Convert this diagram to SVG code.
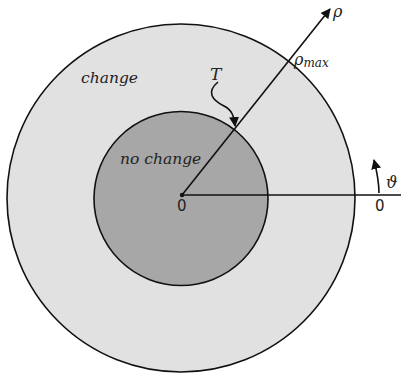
<svg xmlns="http://www.w3.org/2000/svg" width="401" height="379" viewBox="0 0 401 379">
<style>
.lbl{font-family:"DejaVu Serif","Liberation Serif",serif;font-style:italic;fill:#222}
.num{font-family:"DejaVu Sans","Liberation Sans",sans-serif;fill:#222;font-size:15px}
.ln{stroke:#111;stroke-width:1.6;fill:none}
</style>
<defs>
<marker id="ah" viewBox="0 0 10 10" refX="9" refY="5" markerWidth="10" markerHeight="10" markerUnits="userSpaceOnUse" orient="auto">
<path d="M0,0 L10,5 L0,10 z" fill="#111"/>
</marker>
</defs>
<rect width="401" height="379" fill="#fff"/>
<g id="outer-region">
<circle cx="181" cy="198" r="174" fill="#e1e1e1" stroke="#111" stroke-width="1.6"/>
<text class="lbl" x="81" y="83" font-size="15.5">change</text>
</g>
<g id="inner-region">
<circle cx="181" cy="198.5" r="87" fill="#a7a7a7" stroke="#111" stroke-width="1.6"/>
<text class="lbl" x="120" y="164" font-size="15.5">no change</text>
</g>
<g id="connectors">
<line class="ln" x1="182" y1="195" x2="401" y2="195"/>
<line class="ln" x1="182" y1="195" x2="330" y2="9" marker-end="url(#ah)"/>
<path class="ln" d="M218,82 C206,92 212,100 224,106 C232,110 234,116 235,126" stroke-width="1" marker-end="url(#ah)"/>
<path class="ln" d="M379,193 C379,183 377,172 374,160" stroke-width="1.2" marker-end="url(#ah)"/>
<circle cx="182" cy="195" r="2.2" fill="#111"/>
</g>
<g id="labels">
<text class="num" x="177" y="211">0</text>
<text class="num" x="375" y="211">0</text>
<text class="lbl" x="386" y="188" font-size="16">ϑ</text>
<text class="lbl" x="333" y="17" font-size="16">ρ</text>
<text class="lbl" x="294" y="65" font-size="16">ρ<tspan font-size="12" dy="2">max</tspan></text>
<text class="lbl" x="210" y="80" font-size="17">T</text>
</g>
</svg>
